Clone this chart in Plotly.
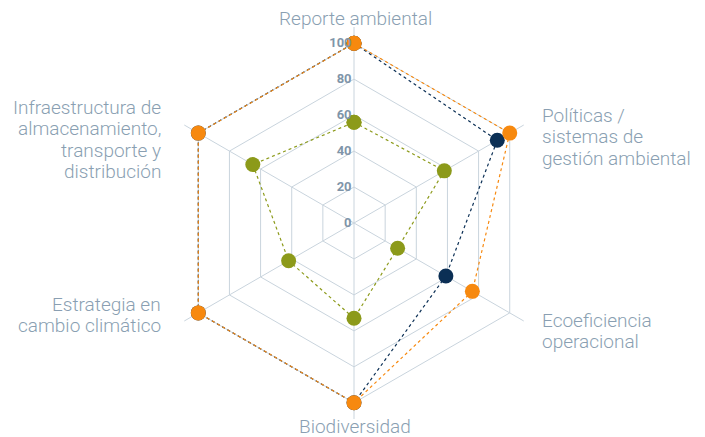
import plotly.graph_objects as go

# axes, clockwise from the top
categories = [
    "Reporte ambiental",
    "Políticas /<br>sistemas de<br>gestión ambiental",
    "Ecoeficiencia<br>operacional",
    "Biodiversidad",
    "Estrategia en<br>cambio climático",
    "Infraestructura de<br>almacenamiento,<br>transporte y<br>distribución",
]

navy_values = [100, 92, 59, 100, 100, 100]
orange_values = [100, 100, 76, 100, 100, 100]
olive_values = [56, 58, 28, 53, 42, 65]

radial_ticks = [0, 20, 40, 60, 80, 100]

NAVY = "#0b2f55"
ORANGE = "#f7890f"
OLIVE = "#8c9a1a"
GRID = "#c9d4dd"
TEXT = "#8a9fb2"
TICK_TEXT = "#7f95a9"

W, H = 705, 437
# the page body adds an 8px margin, so everything is placed 8px up/left
OFFSET = 8

# where each category label sits: first line centre (px in the window) and anchor
label_spots = [
    (355, 18, "center"),
    (540, 115, "left"),
    (540, 320, "left"),
    (355, 426, "center"),
    (163, 304, "right"),
    (163, 107, "right"),
]
LINE_GAP = 21.5


def closed(values):
    return values + values[:1]


fig = go.Figure()

for values, color in [(navy_values, NAVY), (orange_values, ORANGE), (olive_values, OLIVE)]:
    fig.add_trace(go.Scatterpolar(
        r=closed(values),
        theta=closed(categories),
        mode="lines+markers",
        line=dict(color=color, width=1.2, dash="dot"),
        marker=dict(color=color, size=15),
        showlegend=False,
        hoverinfo="skip",
    ))

# category labels written line by line so the line spacing can follow the original
for label, (px, py, anchor) in zip(categories, label_spots):
    for i, line in enumerate(label.split("<br>")):
        fig.add_annotation(
            x=(px - OFFSET) / W,
            y=1 - (py - OFFSET + i * LINE_GAP) / H,
            xref="paper",
            yref="paper",
            text=line,
            showarrow=False,
            xanchor=anchor,
            yanchor="middle",
            font=dict(family="Roboto", size=19, color=TEXT, weight=300),
        )

fig.update_layout(
    width=W,
    height=H,
    margin=dict(l=0, r=0, t=0, b=0),
    paper_bgcolor="white",
    plot_bgcolor="white",
    font=dict(family="Roboto", color=TEXT),
    polar=dict(
        domain=dict(x=[0, 0.9816], y=[0.0595, 0.9565]),
        bgcolor="white",
        gridshape="linear",
        radialaxis=dict(
            range=[0, 109],
            tickvals=radial_ticks,
            angle=90,
            tickangle=90,
            # invisible padding pushes the numbers a little off the spoke
            ticksuffix="<span style='color:rgba(0,0,0,0)'>0</span>",
            side="counterclockwise",
            showline=False,
            ticks="",
            gridcolor=GRID,
            gridwidth=1,
            tickfont=dict(family="Roboto", size=13, color=TICK_TEXT, weight="bold"),
        ),
        angularaxis=dict(
            direction="clockwise",
            rotation=90,
            showline=False,
            showticklabels=False,
            ticks="",
            gridcolor=GRID,
            gridwidth=1,
        ),
    ),
)

fig.write_html("out.html")
